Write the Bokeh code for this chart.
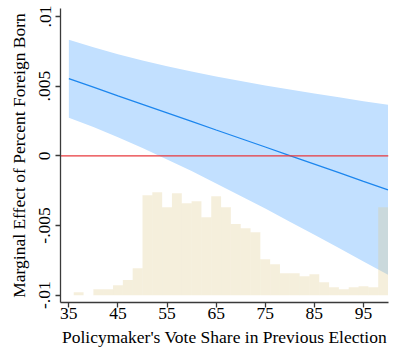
from bokeh.plotting import figure
from bokeh.models import Range1d, FixedTicker, Span, ColumnDataSource
from bokeh.embed import file_html
from bokeh.resources import INLINE

# ---- data ----
vote_share = [35, 40, 45, 50, 55, 60, 65, 70, 75, 80, 85, 90, 95, 100]
marg_effect = [0.00553, 0.00492, 0.00430, 0.00369, 0.00308, 0.00247, 0.00185,
               0.00124, 0.00063, 0.00001, -0.00060, -0.00121, -0.00183, -0.00244]
ci_upper = [0.00833, 0.00778, 0.00728, 0.00683, 0.00642, 0.00604, 0.00569,
            0.00536, 0.00505, 0.00475, 0.00447, 0.00420, 0.00392, 0.00366]
ci_lower = [0.00273, 0.00206, 0.00133, 0.00055, -0.00026, -0.00110, -0.00199,
            -0.00288, -0.00379, -0.00473, -0.00567, -0.00661, -0.00758, -0.00854]

hist_left = [36, 38, 40, 42, 44, 46, 48, 50, 52, 54, 56, 58, 60, 62, 64, 66, 68,
             70, 72, 74, 76, 78, 80, 82, 84, 86, 88, 90, 92, 94, 96, 98]
hist_pct = [0.21, 0.0, 0.43, 0.43, 0.71, 1.09, 1.93, 7.14, 7.36, 6.29, 7.29, 6.57,
            6.71, 5.57, 7.07, 6.29, 5.09, 4.79, 4.50, 2.57, 2.21, 1.57, 1.57, 1.36,
            1.50, 0.93, 0.57, 0.43, 0.57, 0.64, 0.57, 6.29]
bin_width = 2

x_ticks = [35, 45, 55, 65, 75, 85, 95]
y_ticks = [-0.01, -0.005, 0, 0.005, 0.01]
y_tick_labels = ["-.01", "-.005", "0", ".005", ".01"]
zero_level = 0

x_title = "Policymaker's Vote Share in Previous Election"
y_title = "Marginal Effect of Percent Foreign Born"

FONT = "Liberation Serif"
FS = "17.5px"

p = figure(width=397, height=353, output_backend="svg", toolbar_location=None,
           x_range=Range1d(33.3, 100.1), y_range=Range1d(-0.01053, 0.01057),
           min_border_left=60, min_border_right=9, min_border_top=8,
           min_border_bottom=51)
p.extra_y_ranges = {"hist": Range1d(-0.52, 20.48)}
p.outline_line_color = None
p.xgrid.visible = False
p.ygrid.visible = False
p.background_fill_color = "white"
p.border_fill_color = "white"

# confidence band and estimate
p.varea(x=vote_share, y1=ci_lower, y2=ci_upper, fill_color="#c2e0ff")
p.line(x=vote_share, y=marg_effect, line_color="#1c86ee", line_width=1.3)

# zero line
p.add_layout(Span(location=zero_level, dimension="width", line_color="#e8383d",
                  line_width=1.2, level="glyph"))

# histogram
hsrc = ColumnDataSource(dict(left=hist_left,
                             right=[l + bin_width for l in hist_left],
                             top=hist_pct,
                             bottom=[0] * len(hist_pct)))
p.quad(left="left", right="right", top="top", bottom="bottom", source=hsrc,
       y_range_name="hist", fill_color="#ddc98a", fill_alpha=0.3, line_color=None)

# axes
for ax in (p.xaxis[0], p.yaxis[0]):
    ax.axis_line_color = "#3a3a3a"
    ax.axis_line_width = 1.3
    ax.major_tick_line_color = "#3a3a3a"
    ax.major_tick_line_width = 1.3
    ax.major_tick_out = 5
    ax.major_tick_in = 0
    ax.minor_tick_line_color = None
    ax.major_label_text_font = FONT
    ax.major_label_text_font_size = FS
    ax.major_label_text_color = "black"
    ax.axis_label_text_font = FONT
    ax.axis_label_text_font_size = FS
    ax.axis_label_text_font_style = "normal"
    ax.axis_label_text_color = "black"

p.xaxis.ticker = FixedTicker(ticks=x_ticks)
p.xaxis.axis_label = x_title
p.xaxis.major_label_standoff = 0
p.xaxis.axis_label_standoff = 5

p.yaxis.ticker = FixedTicker(ticks=y_ticks)
p.yaxis.major_label_overrides = {t: s for t, s in zip(y_ticks, y_tick_labels)}
p.yaxis.major_label_orientation = "vertical"
p.yaxis.axis_label = y_title
p.yaxis.major_label_standoff = 5
p.yaxis.axis_label_standoff = 8

open("out.html", "w").write(file_html(p, INLINE))
